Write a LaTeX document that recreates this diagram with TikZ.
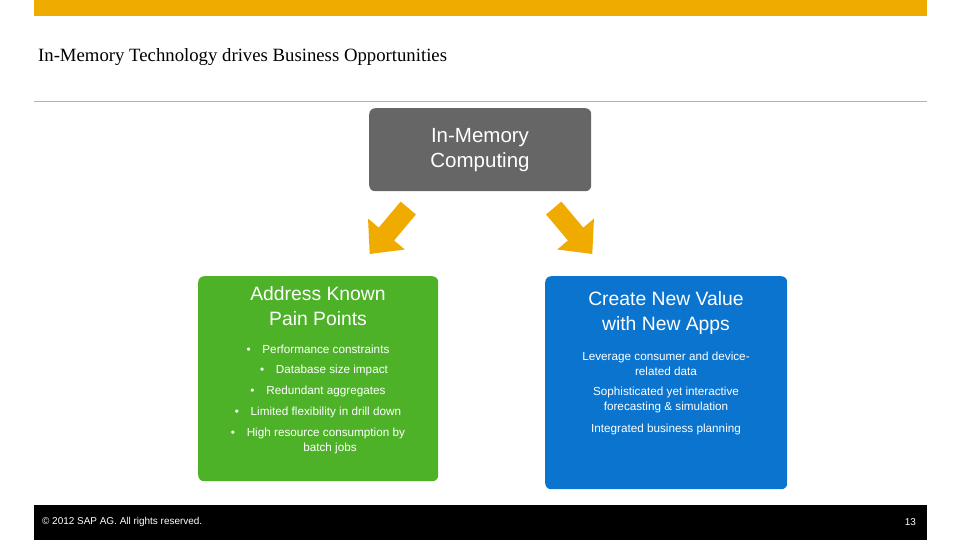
\documentclass[tikz,border=0pt]{standalone}
\usepackage{fontspec}
\setmainfont{Liberation Sans}
\newfontfamily\titlefont{Liberation Serif}
\usetikzlibrary{positioning}
\definecolor{sapgold}{HTML}{F0AB00}
\definecolor{sapgray}{HTML}{666666}
\definecolor{sapgreen}{HTML}{4DB228}
\definecolor{sapblue}{HTML}{0A74CF}
\begin{document}
\begin{tikzpicture}
[x=0.03cm, y=-0.03cm,
pillar/.style={rectangle, rounded corners=5pt, anchor=north west, inner sep=0pt},
heading/.style={text=white, align=center, font=\fontsize{16.5}{22}\selectfont},
item/.style={text=white, align=center, font=\fontsize{10}{12.5}\selectfont}]

\useasboundingbox (0,0) rectangle (960,540);
\fill[sapgold] (34,0) rectangle (927,16);
\node[anchor=west, font=\titlefont\fontsize{16}{16}\selectfont] (title) at (34,57) {In-Memory Technology drives Business Opportunities};
\draw[gray!60, line width=0.6pt] (34,101) -- (927,101);

% core box
\node[pillar, fill=sapgray, minimum width=222*0.03cm, minimum height=83*0.03cm] (core) at (369,108) {};
\node[heading, font=\fontsize{17.5}{22}\selectfont] (coretext) at (480,150) {In-Memory\\Computing};

% arrows
\foreach \ax/\ang in {389/230, 573/310}
  \fill[sapgold, shift={(\ax,231)}, rotate=\ang]
    (-30,-10) -- (4,-10) -- (4,-24) -- (30,0) -- (4,24) -- (4,10) -- (-30,10) -- cycle;

% green pillar
\node[pillar, fill=sapgreen, minimum width=240*0.03cm, minimum height=205*0.03cm] (pain) at (198,276) {};
\node[heading] (paintext) at (318,306) {Address Known\\Pain Points};
\node[item] (p1) at (318,349) {\textbullet\quad Performance constraints};
\node[item] (p2) at (324,370) {\textbullet\quad Database size impact};
\node[item] (p3) at (318,391) {\textbullet\quad Redundant aggregates};
\node[item] (p4) at (318,412) {\textbullet\quad Limited flexibility in drill down};
\node[item] (p5) at (318,433) {\textbullet\quad High resource consumption by};
\node[item] (p6) at (330,448) {batch jobs};

% blue pillar
\node[pillar, fill=sapblue, minimum width=242*0.03cm, minimum height=213*0.03cm] (newval) at (545,276) {};
\node[heading] (newvaltext) at (666,313) {Create New Value\\with New Apps};
\node[item] (n1) at (666,364) {Leverage consumer and device-\\related data};
\node[item] (n2) at (666,400) {Sophisticated yet interactive\\forecasting \& simulation};
\node[item] (n3) at (666,429) {Integrated business planning};

% footer
\fill[black] (34,505) rectangle (927,540);
\node[anchor=west, text=white, font=\fontsize{8.5}{8.5}\selectfont] (copy) at (38,522) {© 2012 SAP AG. All rights reserved.};
\node[anchor=east, text=white, font=\fontsize{8.5}{8.5}\selectfont] (page) at (920,522) {13};
\end{tikzpicture}
\end{document}
